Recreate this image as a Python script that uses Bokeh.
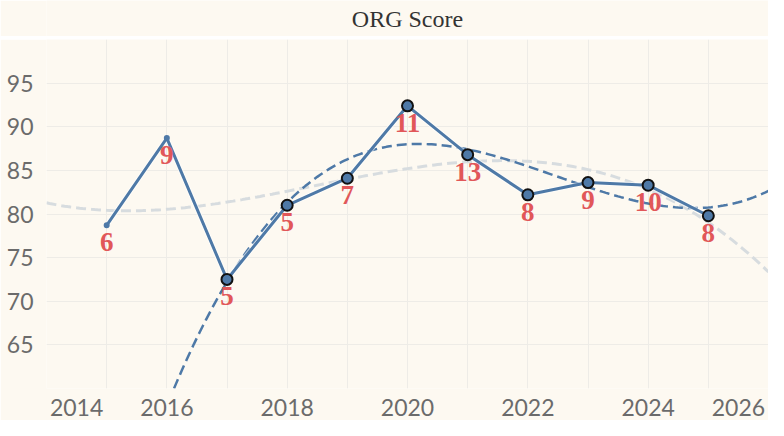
import numpy as np
from bokeh.plotting import figure
from bokeh.models import FixedTicker, ColumnDataSource
from bokeh.layouts import column
from bokeh.embed import file_html
from bokeh.resources import INLINE
from bokeh.core.properties import value

# ---------------- data ----------------
title_text = "ORG Score"
years = [2015, 2016, 2017, 2018, 2019, 2020, 2021, 2022, 2023, 2024, 2025]
scores = [78.7, 88.7, 72.5, 81.0, 84.1, 92.4, 86.8, 82.2, 83.6, 83.3, 79.8]
counts = ["6", "9", "5", "5", "7", "11", "13", "8", "9", "10", "8"]
has_marker = [False, False, True, True, True, True, True, True, True, True, True]
grid_years = list(range(2014, 2027))
x_tick_labels = {2014.5: "2014", 2016: "2016", 2018: "2018", 2020: "2020",
                 2022: "2022", 2024: "2024", 2025.5: "2026"}
y_ticks = [65, 70, 75, 80, 85, 90, 95]
y_grid = [60, 65, 70, 75, 80, 85, 90, 95, 100]

# ---------------- styles ----------------
BG = "#FDF9F1"
BLUE = "#4E79A7"
GRAY = "#D7DCDF"
RED = "#E15759"
GRID = "#EEECE7"
AXIS_TXT = "#6B6B6B"

# trend lines (cubic regression, as in the original)
yr = np.array(years, dtype=float)
sc = np.array(scores, dtype=float)
mk = np.array(has_marker)
xs = np.linspace(grid_years[0], grid_years[-1], 241)
blue_fit = np.polyval(np.polyfit(yr[mk] - 2020, sc[mk], 3), xs - 2020)
gray_fit = np.polyval(np.polyfit(yr - 2020, sc, 3), xs - 2020)

src = ColumnDataSource(dict(x=years, y=scores, lab=counts))
src_m = ColumnDataSource(dict(x=[y for y, m in zip(years, has_marker) if m],
                              y=[s for s, m in zip(scores, has_marker) if m]))
src_d = ColumnDataSource(dict(x=[y for y, m in zip(years, has_marker) if not m],
                              y=[s for s, m in zip(scores, has_marker) if not m]))

# ---------------- title band ----------------
TH = 36
pt = figure(width=768, height=TH, x_range=(0, 1), y_range=(0, TH),
            toolbar_location=None, output_backend="svg",
            x_axis_type=None, y_axis_type=None, min_border=0)
pt.background_fill_color = BG
pt.border_fill_color = BG
pt.outline_line_color = None
pt.text(x=[0.5], y=[TH - 18], text=[title_text], text_align="center",
        text_baseline="middle", text_font=value("Liberation Serif"),
        text_font_size="24px", text_color="#333333")

# ---------------- main chart ----------------
p = figure(width=768, height=381, x_range=(grid_years[0], grid_years[-1]),
           y_range=(y_grid[0], y_grid[-1]), toolbar_location=None,
           output_backend="svg", min_border_left=46, min_border_right=0,
           min_border_top=0, min_border_bottom=32)
p.background_fill_color = BG
p.border_fill_color = BG
p.outline_line_color = None

p.xaxis.ticker = FixedTicker(ticks=list(x_tick_labels.keys()))
p.xaxis.major_label_overrides = x_tick_labels
p.yaxis.ticker = FixedTicker(ticks=y_ticks)
p.xgrid.ticker = FixedTicker(ticks=grid_years)
p.ygrid.ticker = FixedTicker(ticks=y_grid)
for g in (p.xgrid, p.ygrid):
    g.grid_line_color = GRID
    g.grid_line_width = 1
for ax in (p.xaxis, p.yaxis):
    ax.axis_line_color = None
    ax.major_tick_line_color = None
    ax.minor_tick_line_color = None
    ax.major_label_text_font = "Lato"
    ax.major_label_text_font_size = "23px"
    ax.major_label_text_color = AXIS_TXT
p.xaxis.major_label_standoff = 4
p.yaxis.major_label_standoff = 7

p.line(xs, gray_fit, line_color=GRAY, line_width=3, line_dash="10 5")
p.line(xs, blue_fit, line_color=BLUE, line_width=2.5, line_dash="10 5")
p.line("x", "y", source=src, line_color="white", line_width=5, line_alpha=0.6)
p.line("x", "y", source=src, line_color=BLUE, line_width=3)
p.scatter("x", "y", source=src_d, size=6, fill_color=BLUE, line_color=None)
p.scatter("x", "y", source=src_m, size=11, fill_color=BLUE,
          line_color="#111111", line_width=2)
p.text("x", "y", text="lab", source=src, text_align="center",
       text_baseline="top", y_offset=8, text_font=value("Liberation Serif"),
       text_font_style="bold", text_font_size="27px", text_color=RED)

layout = column(pt, p, spacing=3)
open("out.html", "w").write(file_html(layout, INLINE))
